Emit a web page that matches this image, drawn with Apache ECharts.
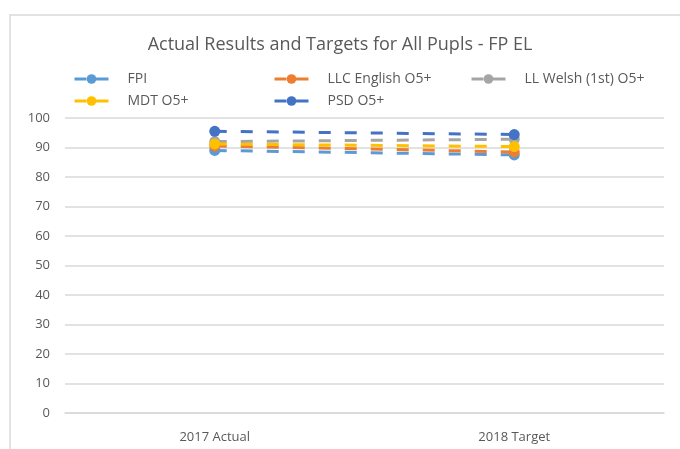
<!DOCTYPE html>
<html>
<head>
<meta charset="utf-8">
<script src="https://cdn.jsdelivr.net/npm/echarts@6/dist/echarts.min.js"></script>
<style>
  html, body { margin: 0; padding: 0; background: #fff; }
  #chart { width: 680px; height: 449px; }
</style>
</head>
<body>
<div id="chart"></div>
<script>
var categories = ['2017 Actual', '2018 Target'];
var fpi = [89, 87.5];
var llcEnglish = [90.5, 88.5];
var llWelsh = [92, 92.8];
var mdt = [91.2, 90.3];
var psd = [95.5, 94.4];

var chart = echarts.init(document.getElementById('chart'));

function line(name, data, color) {
  return {
    name: name,
    type: 'line',
    data: data,
    symbol: 'circle',
    symbolSize: 11,
    itemStyle: { color: color },
    lineStyle: { color: color, width: 3, type: [12, 14] },
    emphasis: { disabled: true }
  };
}

var legendText = { color: '#595959', fontSize: 14, padding: [0, 0, 0, 14] };
function legend(names, left) {
  return {
    data: names, orient: 'vertical', left: left, top: 72, padding: 0,
    itemWidth: 34, itemHeight: 12, itemGap: 8, textStyle: legendText,
    lineStyle: { type: [12, 4, 100], width: 3 }, itemStyle: {}
  };
}

var option = {
  animation: false,
  backgroundColor: '#fff',
  textStyle: { fontFamily: 'Open Sans, sans-serif' },
  graphic: [{
    type: 'rect',
    shape: { x: 10, y: 15, width: 720, height: 500 },
    style: { fill: 'none', stroke: '#d9d9d9', lineWidth: 1.5 },
    silent: true
  }],
  title: {
    text: 'Actual Results and Targets for All Pupls - FP EL',
    left: 'center',
    top: 31,
    textStyle: { color: '#595959', fontSize: 18, fontWeight: 'normal' }
  },
  legend: [
    legend(['FPI', 'MDT O5+'], 73),
    legend(['LLC English O5+', 'PSD O5+'], 273),
    legend(['LL Welsh (1st) O5+'], 470)
  ],
  grid: { left: 65, right: 16, top: 118, bottom: 36 },
  xAxis: {
    type: 'category',
    data: categories,
    axisLine: { lineStyle: { color: '#d9d9d9', width: 1.5 } },
    axisTick: { show: false },
    axisLabel: { color: '#595959', fontSize: 13, margin: 18 }
  },
  yAxis: {
    type: 'value',
    min: 0,
    max: 100,
    interval: 10,
    axisLine: { show: false },
    axisTick: { show: false },
    axisLabel: { color: '#595959', fontSize: 13, margin: 15 },
    splitLine: { lineStyle: { color: '#d9d9d9', width: 1.5 } }
  },
  series: [
    line('FPI', fpi, '#5B9BD5'),
    line('LLC English O5+', llcEnglish, '#ED7D31'),
    line('LL Welsh (1st) O5+', llWelsh, '#A5A5A5'),
    line('MDT O5+', mdt, '#FFC000'),
    line('PSD O5+', psd, '#4472C4')
  ]
};

chart.setOption(option);
</script>
</body>
</html>
